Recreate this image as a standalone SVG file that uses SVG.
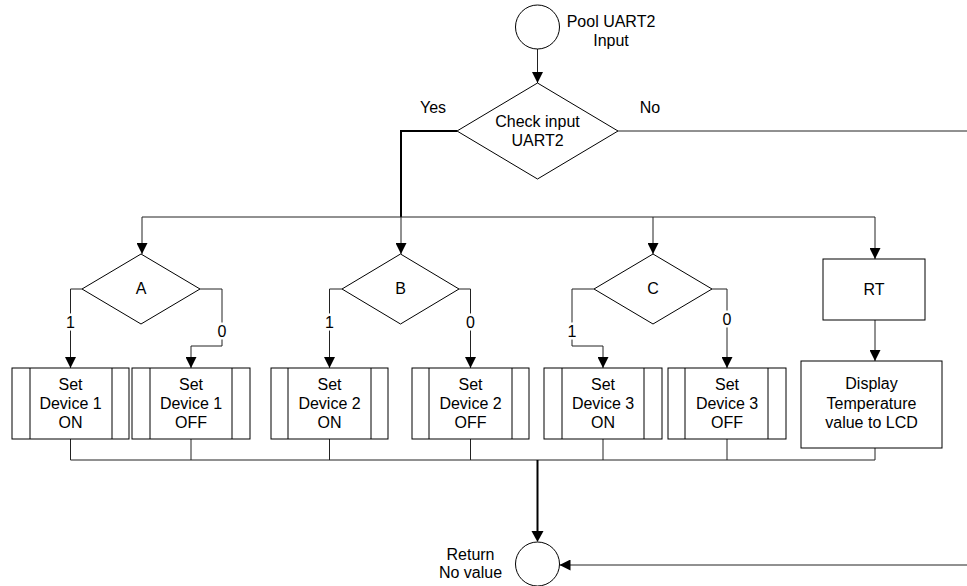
<svg xmlns="http://www.w3.org/2000/svg" width="967" height="586" viewBox="0 0 967 586">
  <style>
    .shape { fill: #fff; stroke: #000; stroke-width: 1; }
    .inner { fill: none; stroke: #000; stroke-width: 1; }
    .wire { fill: none; stroke: #222; stroke-width: 1; }
    .bold { fill: none; stroke: #000; stroke-width: 2; }
    text { font-family: "Liberation Sans", Arial, sans-serif; font-size: 16px; fill: #000; text-anchor: middle; }
    .tag { paint-order: stroke; stroke: #fff; stroke-width: 5px; stroke-linejoin: round; }
  </style>
  <defs>
    <marker id="arrow" markerUnits="userSpaceOnUse" viewBox="0 0 11 11" markerWidth="11" markerHeight="11" refX="11" refY="5.5" orient="auto">
      <path d="M0,0 L11,5.5 L0,11 z" fill="#000"/>
    </marker>
  </defs>

  <rect width="967" height="586" fill="#fff"/>

  <!-- connectors -->
  <g id="connectors">
    <path class="wire" d="M537.5,49 V83" marker-end="url(#arrow)"/>
    <path class="bold" d="M457,131 H401 V217"/>
    <path class="wire" d="M401,217 V254" marker-end="url(#arrow)"/>
    <path class="wire" d="M618,131 H968 V565 H559.5" marker-end="url(#arrow)"/>
    <path class="wire" d="M142,217 H875"/>
    <path class="wire" d="M142,217 V254" marker-end="url(#arrow)"/>
    <path class="wire" d="M653,217 V254" marker-end="url(#arrow)"/>
    <path class="wire" d="M875,217 V259" marker-end="url(#arrow)"/>
    <path class="wire" d="M82,289 H70.5 V368" marker-end="url(#arrow)"/>
    <path class="wire" d="M200,289 H222 V346 H191 V368" marker-end="url(#arrow)"/>
    <path class="wire" d="M342,289 H329.5 V368" marker-end="url(#arrow)"/>
    <path class="wire" d="M459,289 H470.5 V368" marker-end="url(#arrow)"/>
    <path class="wire" d="M594,289 H572 V346 H603 V368" marker-end="url(#arrow)"/>
    <path class="wire" d="M712,289 H727 V368" marker-end="url(#arrow)"/>
    <path class="wire" d="M875,320 V361" marker-end="url(#arrow)"/>
    <path class="wire" d="M70.5,439 V460 M191,439 V460 M329.5,439 V460 M470.5,439 V460 M603,439 V460 M727,439 V460 M875,448 V460 M70.5,460 H875"/>
    <path class="bold" d="M537.5,460 V531"/>
    <path d="M531.5,531 L543.5,531 L537.5,542 z" fill="#000"/>

    <text x="433" y="113">Yes</text>
    <text x="650" y="113">No</text>
    <text class="tag" x="70.5" y="328">1</text>
    <text class="tag" x="222" y="337">0</text>
    <text class="tag" x="329.5" y="328">1</text>
    <text class="tag" x="470.5" y="328">0</text>
    <text class="tag" x="572" y="337">1</text>
    <text class="tag" x="727" y="325">0</text>
  </g>

  <!-- start terminal -->
  <g id="start">
    <circle class="shape" cx="537.5" cy="27" r="22"/>
    <text x="611" y="27">Pool UART2</text>
    <text x="611" y="46">Input</text>
  </g>

  <!-- input check -->
  <g id="check-input">
    <polygon class="shape" points="537.5,83 618,131 537.5,179 457,131"/>
    <text x="537.5" y="127">Check input</text>
    <text x="537.5" y="146">UART2</text>
  </g>

  <!-- decisions -->
  <g id="decision-a">
    <polygon class="shape" points="141,254 200,289 141,324 82,289"/>
    <text x="141" y="294">A</text>
  </g>
  <g id="decision-b">
    <polygon class="shape" points="400.5,254 459,289 400.5,324 342,289"/>
    <text x="400.5" y="294">B</text>
  </g>
  <g id="decision-c">
    <polygon class="shape" points="653,254 712,289 653,324 594,289"/>
    <text x="653" y="294">C</text>
  </g>

  <!-- predefined processes -->
  <g id="dev1-on">
    <rect class="shape" x="12" y="368" width="117" height="71"/>
    <path class="inner" d="M30,368 V439 M112,368 V439"/>
    <text x="70.5" y="390">Set</text>
    <text x="70.5" y="409">Device 1</text>
    <text x="70.5" y="428">ON</text>
  </g>
  <g id="dev1-off">
    <rect class="shape" x="132" y="368" width="118" height="71"/>
    <path class="inner" d="M150,368 V439 M232,368 V439"/>
    <text x="191" y="390">Set</text>
    <text x="191" y="409">Device 1</text>
    <text x="191" y="428">OFF</text>
  </g>
  <g id="dev2-on">
    <rect class="shape" x="271" y="368" width="117" height="71"/>
    <path class="inner" d="M288,368 V439 M371,368 V439"/>
    <text x="329.5" y="390">Set</text>
    <text x="329.5" y="409">Device 2</text>
    <text x="329.5" y="428">ON</text>
  </g>
  <g id="dev2-off">
    <rect class="shape" x="412" y="368" width="117" height="71"/>
    <path class="inner" d="M429,368 V439 M512,368 V439"/>
    <text x="470.5" y="390">Set</text>
    <text x="470.5" y="409">Device 2</text>
    <text x="470.5" y="428">OFF</text>
  </g>
  <g id="dev3-on">
    <rect class="shape" x="544" y="368" width="118" height="71"/>
    <path class="inner" d="M562,368 V439 M644,368 V439"/>
    <text x="603" y="390">Set</text>
    <text x="603" y="409">Device 3</text>
    <text x="603" y="428">ON</text>
  </g>
  <g id="dev3-off">
    <rect class="shape" x="668" y="368" width="118" height="71"/>
    <path class="inner" d="M685,368 V439 M768,368 V439"/>
    <text x="727" y="390">Set</text>
    <text x="727" y="409">Device 3</text>
    <text x="727" y="428">OFF</text>
  </g>

  <!-- temperature branch -->
  <g id="rt">
    <rect class="shape" x="823" y="259" width="102" height="61"/>
    <text x="874" y="295">RT</text>
  </g>
  <g id="display">
    <rect class="shape" x="801" y="361" width="141" height="87"/>
    <text x="871.5" y="389">Display</text>
    <text x="871.5" y="408.5">Temperature</text>
    <text x="871.5" y="428">value to LCD</text>
  </g>

  <!-- end terminal -->
  <g id="return">
    <circle class="shape" cx="537.5" cy="564" r="22"/>
    <text x="470.5" y="560">Return</text>
    <text x="470.5" y="578">No value</text>
  </g>
</svg>
